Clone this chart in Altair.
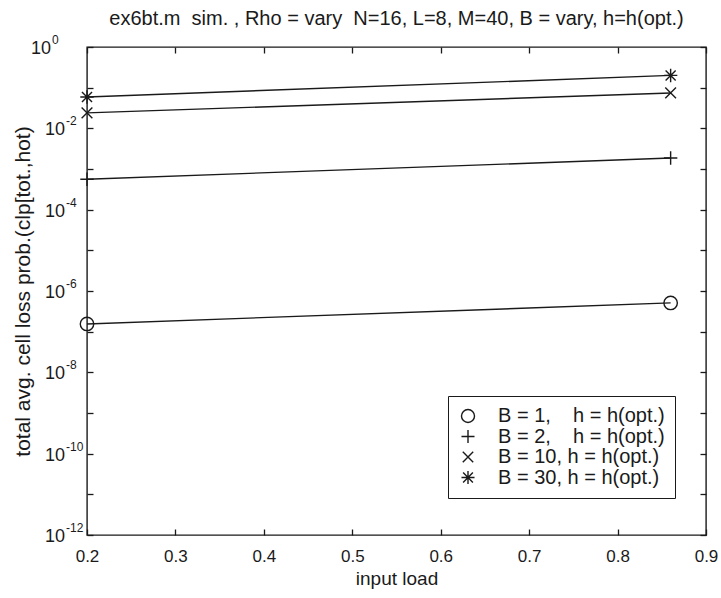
import altair as alt
import pandas as pd

# Input load for each simulated point and the measured loss probabilities
input_load = [0.2, 0.86]
series_names = [
    "B = 1,\u00a0\u00a0\u00a0 h = h(opt.)",
    "B = 2,\u00a0\u00a0\u00a0 h = h(opt.)",
    "B = 10, h = h(opt.)",
    "B = 30, h = h(opt.)",
]
clp_b1 = [1.55e-7, 5.1e-7]
clp_b2 = [5.6e-4, 1.86e-3]
clp_b10 = [2.4e-2, 7.4e-2]
clp_b30 = [5.9e-2, 2.0e-1]

x_ticks = [0.2, 0.3, 0.4, 0.5, 0.6, 0.7, 0.8, 0.9]
y_decades = list(range(0, -13, -1))
y_label_exps = [0, -2, -4, -6, -8, -10, -12]
y_tick_vals = [10.0 ** d for d in y_decades]

W, H = 619, 488
FONT = "Liberation Sans"
INK = "#1a1a1a"

rows = []
for name, vals in zip(series_names, [clp_b1, clp_b2, clp_b10, clp_b30]):
    for xv, yv in zip(input_load, vals):
        rows.append({"series": name, "load": xv, "clp": yv})
df = pd.DataFrame(rows)

xscale = alt.Scale(domain=[0.2, 0.9], nice=False, zero=False)
yscale = alt.Scale(type="log", domain=[1e-12, 1], nice=False)

# Marker outlines as unit SVG paths: circle, plus, x-cross, asterisk
shape_range = [
    "circle",
    "M-1,0H1M0,-1V1",
    "M-0.8,-0.8L0.8,0.8M-0.8,0.8L0.8,-0.8",
    "M-1,0H1M0,-1V1M-0.75,-0.75L0.75,0.75M-0.75,0.75L0.75,-0.75",
]

base = alt.Chart(df)

# Axes sit 6px inside the frame so their ticks point inward
lines = base.mark_line(color=INK, strokeWidth=1.4).encode(
    x=alt.X("load:Q", scale=xscale,
            axis=alt.Axis(values=x_ticks, format=".1f", offset=-6, tickSize=6,
                          tickColor=INK, tickWidth=1.3, domain=False, grid=False,
                          labelFlush=False, labelFontSize=17, labelFont=FONT,
                          labelColor=INK, labelPadding=13, title="input load",
                          titleFontSize=19, titleFont=FONT, titleFontWeight="normal",
                          titleColor=INK, titlePadding=5)),
    y=alt.Y("clp:Q", scale=yscale,
            axis=alt.Axis(values=y_tick_vals, labels=False, offset=-6, tickSize=6,
                          tickColor=INK, tickWidth=1.3, domain=False, grid=False,
                          title="total avg. cell loss prob.(clp[tot.,hot)",
                          titleFontSize=21, titleFont=FONT, titleFontWeight="normal",
                          titleColor=INK, titlePadding=53)),
    detail="series:N",
)

points = base.mark_point(filled=False, color=INK, strokeWidth=1.4, size=180, opacity=1).encode(
    x=alt.X("load:Q", scale=xscale, axis=None),
    y=alt.Y("clp:Q", scale=yscale, axis=None),
    shape=alt.Shape("series:N", sort=series_names,
                    scale=alt.Scale(domain=series_names, range=shape_range),
                    legend=alt.Legend(title=None, orient="none", legendX=361, legendY=349,
                                      labelFont=FONT, labelFontSize=20, labelColor=INK,
                                      symbolStrokeColor=INK, symbolStrokeWidth=1.4,
                                      symbolFillColor="transparent", symbolSize=170,
                                      strokeColor=INK, fillColor="white",
                                      padding=10, rowPadding=0.5, labelOffset=20,
                                      labelLimit=400)),
)

# Mirror axes on the top and right edges carry inward ticks only
mirror = base.mark_point(opacity=0).encode(
    x=alt.X("load:Q", scale=xscale,
            axis=alt.Axis(orient="top", values=x_ticks, labels=False, title=None,
                          offset=-6, tickSize=6, tickColor=INK, tickWidth=1.3,
                          domain=False, grid=False)),
    y=alt.Y("clp:Q", scale=yscale,
            axis=alt.Axis(orient="right", values=y_tick_vals, labels=False, title=None,
                          offset=-6, tickSize=6, tickColor=INK, tickWidth=1.3,
                          domain=False, grid=False)),
)

# Power-of-ten labels: base "10" plus a raised exponent
lab = pd.DataFrame({"e": y_label_exps})
lab["v"] = 10.0 ** lab["e"]
lab["exp"] = lab["e"].astype(str)

lab_chart = alt.Chart(lab).transform_calculate(
    bx="datum.e == 0 ? -36 : -22",
    ex="datum.e == 0 ? -35 : -21",
)
base_text = lab_chart.mark_text(align="right", baseline="middle", fontSize=18,
                                font=FONT, color=INK, dy=2).encode(
    y=alt.Y("v:Q", scale=yscale, axis=None), x=alt.X("bx:Q", scale=None),
    text=alt.value("10"))
exp_text = lab_chart.mark_text(align="left", baseline="middle", fontSize=12,
                               font=FONT, color=INK, dy=-7).encode(
    y=alt.Y("v:Q", scale=yscale, axis=None), x=alt.X("ex:Q", scale=None),
    text="exp:N")

chart = alt.layer(
    lines, points, mirror, base_text, exp_text
).resolve_axis(
    x="independent", y="independent"
).properties(
    width=W, height=H,
    title=alt.TitleParams(
        "ex6bt.m\u00a0 sim. , Rho = vary\u00a0 N=16, L=8, M=40, B = vary, h=h(opt.)",
        font=FONT, fontSize=20, fontWeight="normal", color=INK, anchor="middle", offset=5),
    autosize=alt.AutoSizeParams(type="none"),
    padding={"left": 87, "top": 47, "right": 15, "bottom": 63},
    background="white",
).configure_view(stroke=INK, strokeWidth=1.4).configure_axis(labelOverlap=False)

chart.save("out.html", embed_options={"renderer": "svg", "actions": False})
